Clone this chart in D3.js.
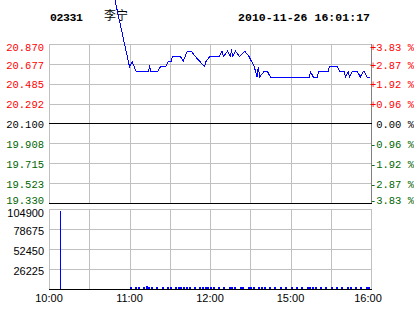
<!DOCTYPE html>
<html>
<head>
<meta charset="utf-8">
<script src="https://cdn.jsdelivr.net/npm/d3@7"></script>
<style>
    body { margin: 0; background: #fff; }
    svg { display: block; }
</style>
</head>
<body>
<svg id="chart" width="414" height="314"></svg>
<script>
// Header
const stockCode = "02331";
const stockName = "李宁";
const stamp = "2010-11-26 16:01:17";

// Price axis ticks (left) and percent change (right)
const priceTicks = [20.870, 20.677, 20.485, 20.292, 20.100, 19.908, 19.715, 19.523, 19.330];
const pctTicks = ["+3.83", "+2.87", "+1.92", "+0.96", "0.00", "-0.96", "-1.92", "-2.87", "-3.83"];

// Volume axis ticks
const volTicks = [104900, 78675, 52450, 26225];

// Time axis labels
const timeLabels = ["10:00", "11:00", "12:00", "15:00", "16:00"];

// Price line (trade time, price)
const priceTimes = [
    "10:08", "11:00", "11:02", "11:05", "11:14", "11:15", "11:16", "11:21", "11:23", "11:27",
    "11:29", "11:31", "11:32", "11:38", "11:40", "11:43", "11:46", "11:49", "11:56", "11:57",
    "12:00", "12:07", "12:09", "12:10", "12:13", "12:15", "12:16", "12:17", "12:19", "12:22",
    "12:26", "12:29", "14:33", "14:35", "14:36", "14:37", "14:40", "14:43", "14:45", "15:14",
    "15:15", "15:17", "15:20", "15:21", "15:28", "15:29", "15:35", "15:37", "15:40", "15:41",
    "15:43", "15:44", "15:46", "15:50", "15:52", "15:54", "15:55", "15:57", "15:59"
];
const prices = [
    23.75, 20.65, 20.70, 20.60, 20.60, 20.65, 20.60, 20.60, 20.65, 20.65,
    20.70, 20.70, 20.75, 20.75, 20.70, 20.80, 20.80, 20.75, 20.65, 20.70,
    20.75, 20.75, 20.80, 20.75, 20.80, 20.75, 20.80, 20.75, 20.80, 20.75,
    20.80, 20.75, 20.65, 20.55, 20.65, 20.55, 20.60, 20.60, 20.55, 20.55,
    20.60, 20.55, 20.55, 20.60, 20.60, 20.65, 20.65, 20.60, 20.60, 20.55,
    20.60, 20.55, 20.60, 20.60, 20.55, 20.60, 20.60, 20.55, 20.55
];

// Volume: opening spike, then 2-minute buckets
const spikeTime = "10:08";
const spikeVol = 102300;
const volStep = 2;
const volStartAM = "11:00";
const volAM = [
    3100, 0, 2600, 2200, 0, 2800, 3300, 2400, 2700, 0,
    2500, 0, 2900, 0, 2300, 2600, 0, 2400, 3000, 2700,
    2500, 2800, 2600, 0, 2400, 0, 2700, 2300, 2500, 2900,
    2600, 2200, 0, 2800, 0, 2500, 0, 2600, 2400, 2700,
    0, 2300, 2800, 0, 2600
];
const volStartPM = "14:30";
const volPM = [
    2700, 2500, 0, 2600, 2900, 2400, 0, 2600, 0, 2500,
    0, 2700, 0, 2400, 0, 2600, 0, 2500, 0, 2800,
    0, 2600, 2400, 2700, 2500, 0, 2600, 0, 2400, 0,
    2700, 0, 2500, 0, 2600, 0, 2400, 2800, 0, 2500,
    0, 2600, 0, 2700, 3000
];

const RED = "#ff0000", GREEN = "#006400", GRID = "#c0c0c0";
const MONO = "'Liberation Mono', 'Courier New', monospace";
const SANS = "'Liberation Sans', Arial, sans-serif";

// trading minutes: 10:00-12:30 then 14:30-16:00
const tradeMin = (t) => {
    const [h, m] = t.split(":").map(Number);
    const mins = h * 60 + m;
    return mins <= 750 ? mins - 600 : 150 + (mins - 870);
};

const left = 49, right = 371;
const x = d3.scaleLinear().domain([0, 240]).range([left, right]);
const yPrice = d3.scaleLinear().domain([19.330, 20.870]).range([203, 44]);
const yVol = d3.scaleLinear().domain([0, 104900]).range([289, 209]);

const svg = d3.select("#chart");
svg.append("rect").attr("width", 414).attr("height", 314).attr("fill", "#fff");

// Header
const header = svg.append("g").attr("font-weight", "bold");
header.append("text").attr("x", 50).attr("y", 20.5)
    .attr("font-family", MONO).attr("font-size", 11.5)
    .attr("textLength", 33).text(stockCode);
header.append("text").attr("x", 104).attr("y", 20)
    .attr("font-family", "'Noto Sans CJK SC', sans-serif").attr("font-weight", "normal")
    .attr("font-size", 12).text(stockName);
header.append("text").attr("x", 238).attr("y", 20.5)
    .attr("font-family", MONO).attr("font-size", 11.5)
    .attr("textLength", 132).text(stamp);

const gridX = d3.range(0, 241, 30);

// Price panel grid
const pg = svg.append("g").attr("shape-rendering", "crispEdges");
pg.selectAll("line.h").data(priceTicks).join("line")
    .attr("x1", left).attr("x2", right)
    .attr("y1", d => Math.round(yPrice(d)) + 0.5).attr("y2", d => Math.round(yPrice(d)) + 0.5)
    .attr("stroke", GRID);
pg.selectAll("line.v").data(gridX).join("line")
    .attr("x1", d => Math.round(x(d)) + 0.5).attr("x2", d => Math.round(x(d)) + 0.5)
    .attr("y1", 44).attr("y2", 203)
    .attr("stroke", (d, i) => i === gridX.length - 1 ? "#808080" : GRID);
// black zero line and bottom line on top of verticals
pg.selectAll("line.b").data([priceTicks[4], priceTicks[8]]).join("line")
    .attr("x1", left).attr("x2", right + 1)
    .attr("y1", d => Math.round(yPrice(d)) + 0.5).attr("y2", d => Math.round(yPrice(d)) + 0.5)
    .attr("stroke", "#000");

const tickColor = (i) => i < 4 ? RED : i === 4 ? "#000" : GREEN;
const labelShift = (i, n) => i === 0 ? 3 : i === n - 1 ? -3 : 1;

// Left price labels
svg.append("g").selectAll("text").data(priceTicks).join("text")
    .attr("x", 44).attr("y", (d, i) => yPrice(d) + labelShift(i, priceTicks.length))
    .attr("dy", "0.35em").attr("text-anchor", "end")
    .attr("font-family", MONO).attr("font-size", 10.5)
    .attr("fill", (d, i) => tickColor(i))
    .text(d => d.toFixed(3));

// Right percent labels
svg.append("g").selectAll("text").data(pctTicks).join("text")
    .attr("x", 414).attr("y", (d, i) => yPrice(priceTicks[i]) + labelShift(i, pctTicks.length))
    .attr("dy", "0.35em").attr("text-anchor", "end")
    .attr("font-family", MONO).attr("font-size", 10.5)
    .attr("fill", (d, i) => tickColor(i))
    .text(d => d + " %");

// Volume panel grid
const vg = svg.append("g").attr("shape-rendering", "crispEdges");
vg.selectAll("line.h").data(volTicks).join("line")
    .attr("x1", left).attr("x2", right)
    .attr("y1", d => Math.round(yVol(d)) + 0.5).attr("y2", d => Math.round(yVol(d)) + 0.5)
    .attr("stroke", GRID);
vg.selectAll("line.v").data(gridX).join("line")
    .attr("x1", d => Math.round(x(d)) + 0.5).attr("x2", d => Math.round(x(d)) + 0.5)
    .attr("y1", 209).attr("y2", 289)
    .attr("stroke", GRID);

// Volume bars
const volData = [{ t: tradeMin(spikeTime), v: spikeVol, w: 1 }]
    .concat(volAM.map((v, i) => ({ t: tradeMin(volStartAM) + i * volStep, v, w: 2 })))
    .concat(volPM.map((v, i) => ({ t: tradeMin(volStartPM) + i * volStep, v, w: 2 })))
    .filter(d => d.v > 0);
vg.selectAll("rect").data(volData).join("rect")
    .attr("x", d => Math.round(x(d.t)))
    .attr("y", d => yVol(d.v))
    .attr("width", d => d.w)
    .attr("height", d => 289 - yVol(d.v))
    .attr("fill", "#0000ff");

vg.append("line").attr("x1", left).attr("x2", right + 1)
    .attr("y1", 289.5).attr("y2", 289.5).attr("stroke", "#000");

// Volume labels
svg.append("g").selectAll("text").data(volTicks).join("text")
    .attr("x", 44).attr("y", (d, i) => yVol(d) + (i === 0 ? 4.5 : 2.5))
    .attr("dy", "0.35em").attr("text-anchor", "end")
    .attr("font-family", SANS).attr("font-size", 11)
    .text(d => d);

// Time labels
svg.append("g").selectAll("text").data(timeLabels).join("text")
    .attr("x", d => x(tradeMin(d)) - (d === "16:00" ? 3 : 0))
    .attr("y", 302).attr("text-anchor", "middle")
    .attr("font-family", SANS).attr("font-size", 11)
    .text(d => d);

// Price line
const line = d3.line()
    .x(d => x(tradeMin(d[0])))
    .y(d => yPrice(d[1]));
svg.append("path")
    .datum(priceTimes.map((t, i) => [t, prices[i]]))
    .attr("d", line)
    .attr("fill", "none")
    .attr("stroke", "#0000ff")
    .attr("stroke-width", 1)
    .attr("shape-rendering", "crispEdges");
</script>
</body>
</html>
